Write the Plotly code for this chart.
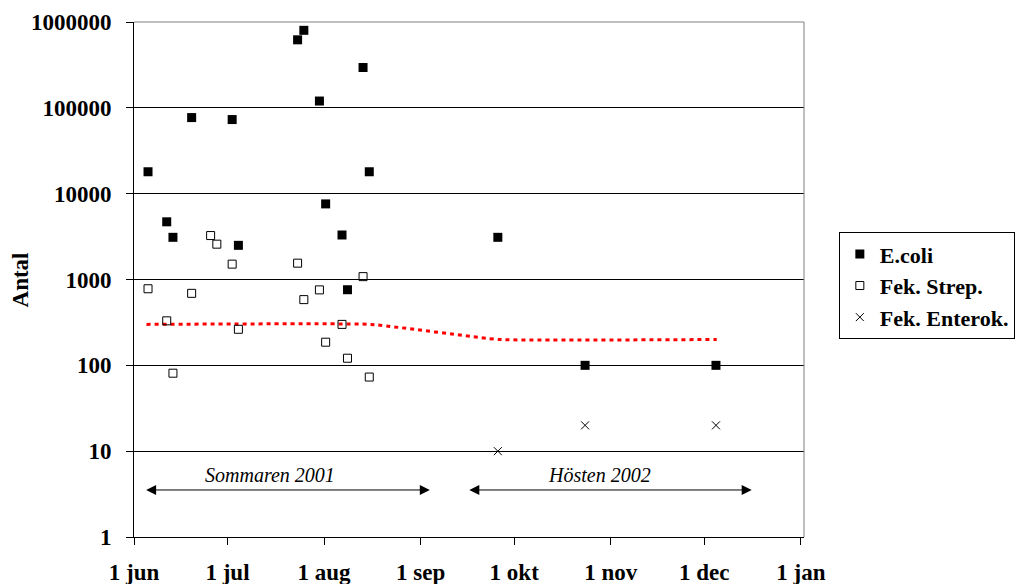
import plotly.graph_objects as go
import math

# ---------------- data ----------------
ecoli_dates = ["2001-06-05 12:00", "2001-06-11 12:00", "2001-06-13 12:00", "2001-06-19 12:00",
               "2001-07-02 12:00", "2001-07-04 12:00", "2001-07-23 12:00", "2001-07-25 12:00",
               "2001-07-30 12:00", "2001-08-01 12:00", "2001-08-06 18:00", "2001-08-08 12:00",
               "2001-08-13 12:00", "2001-08-15 12:00", "2001-09-25 18:00", "2001-10-23 18:00",
               "2001-12-04 18:00"]
ecoli_vals = [18000, 4700, 3100, 77000, 73000, 2500, 620000, 800000, 120000, 7600, 3300, 760,
              295000, 18000, 3100, 100, 100]

strep_dates = ["2001-06-05 12:00", "2001-06-11 12:00", "2001-06-13 12:00", "2001-06-19 12:00",
               "2001-06-25 14:00", "2001-06-27 14:00", "2001-07-02 12:00", "2001-07-04 12:00",
               "2001-07-23 12:00", "2001-07-25 12:00", "2001-07-30 12:00", "2001-08-01 12:00",
               "2001-08-06 18:00", "2001-08-08 12:00", "2001-08-13 12:00", "2001-08-15 12:00"]
strep_vals = [780, 330, 81, 690, 3250, 2580, 1510, 263, 1550, 583, 757, 186, 300, 121, 1080, 73]

enterok_dates = ["2001-09-25 18:00", "2001-10-23 18:00", "2001-12-04 18:00"]
enterok_vals = [10, 20, 20]

limit_dates = ["2001-06-05", "2001-08-16", "2001-09-26", "2001-12-05"]
limit_vals = [300, 300, 200, 200]

tick_dates = ["2001-06-01", "2001-07-01", "2001-08-01", "2001-09-01", "2001-10-01",
              "2001-11-01", "2001-12-01", "2002-01-01"]
tick_text = ["1 jun", "1 jul", "1 aug", "1 sep", "1 okt", "1 nov", "1 dec", "1 jan"]

y_ticks = [1, 10, 100, 1000, 10000, 100000, 1000000]
y_text = ["1", "10", "100", "1000", "10000", "100000", "1000000"]

periods = [("Sommaren 2001", "2001-06-04 10:00", "2001-09-03 22:00", "2001-07-14 12:00"),
           ("Hösten 2002", "2001-09-16 03:00", "2001-12-16 05:00", "2001-10-28 12:00")]
arrow_level = 3.53
label_level = 5.28

FONT = "Liberation Serif"

fig = go.Figure()

fig.add_trace(go.Scatter(
    x=limit_dates, y=limit_vals, mode="lines", showlegend=False,
    line=dict(color="#FF0000", width=3, dash="4px,4px", shape="spline", smoothing=0.3),
    hoverinfo="skip"))

fig.add_trace(go.Scatter(
    x=ecoli_dates, y=ecoli_vals, mode="markers", name="E.coli", legendgroup="a",
    marker=dict(symbol="square", size=9, color="black", line=dict(width=0))))
fig.add_trace(go.Scatter(
    x=strep_dates, y=strep_vals, mode="markers", name="Fek. Strep.", legendgroup="b",
    marker=dict(symbol="square-open", size=8, color="black", line=dict(width=1))))
fig.add_trace(go.Scatter(
    x=enterok_dates, y=enterok_vals, mode="markers", name="Fek. Enterok.", legendgroup="c",
    marker=dict(symbol="x-thin-open", size=8, color="black", line=dict(width=1))))

annotations = []
for label, x0, x1, xc in periods:
    annotations.append(dict(
        x=x1, y=math.log10(arrow_level), ax=x0, ay=math.log10(arrow_level),
        xref="x", yref="y", axref="x", ayref="y", text="", showarrow=True,
        arrowhead=2, startarrowhead=2, arrowside="end+start", arrowsize=2,
        startarrowsize=2, arrowwidth=1, arrowcolor="black"))
    annotations.append(dict(
        x=xc, y=math.log10(label_level), xref="x", yref="y", text="<i>%s</i>" % label,
        showarrow=False, font=dict(family=FONT, size=20, color="black", weight="normal")))

# y axis title
annotations.append(dict(
    x=-0.1687, y=0.5, xref="paper", yref="paper", text="Antal", textangle=-90,
    showarrow=False, xanchor="center", yanchor="middle",
    font=dict(family=FONT, size=23, color="black", weight="bold")))

shapes = [
    dict(type="line", xref="paper", yref="paper", x0=0, x1=1, y0=1, y1=1,
         line=dict(color="#808080", width=1)),
    dict(type="line", xref="paper", yref="paper", x0=1, x1=1, y0=0, y1=1,
         line=dict(color="#808080", width=1)),
]

fig.update_layout(
    width=1021, height=584,
    margin=dict(l=134, r=217, t=22, b=47, autoexpand=False),
    paper_bgcolor="white", plot_bgcolor="white",
    font=dict(family=FONT, size=23, color="black"),
    showlegend=True,
    legend=dict(x=1.052, y=0.592, xanchor="left", yanchor="top",
                bordercolor="black", borderwidth=1, bgcolor="white",
                font=dict(family=FONT, size=22, color="black", weight="bold"),
                tracegroupgap=0, itemwidth=30),
    annotations=annotations,
    shapes=shapes,
)

fig.update_xaxes(
    type="date", range=["2001-06-01", "2002-01-02"],
    tickmode="array", tickvals=tick_dates, ticktext=tick_text,
    tickfont=dict(family=FONT, size=23, color="black", weight="bold"),
    ticks="outside", ticklen=7, tickcolor="black", tickwidth=1,
    showline=True, linecolor="black", linewidth=1,
    showgrid=False, zeroline=False, ticklabelstandoff=7, automargin=False,
)

fig.update_yaxes(
    type="log", range=[0, 6],
    tickmode="array", tickvals=y_ticks, ticktext=y_text,
    tickfont=dict(family=FONT, size=23, color="black", weight="bold"),
    ticks="outside", ticklen=7, tickcolor="black", tickwidth=1,
    showline=True, linecolor="black", linewidth=1,
    showgrid=True, gridcolor="black", gridwidth=1, zeroline=False,
    ticklabelstandoff=10, automargin=False,
)

fig.write_html("out.html")
